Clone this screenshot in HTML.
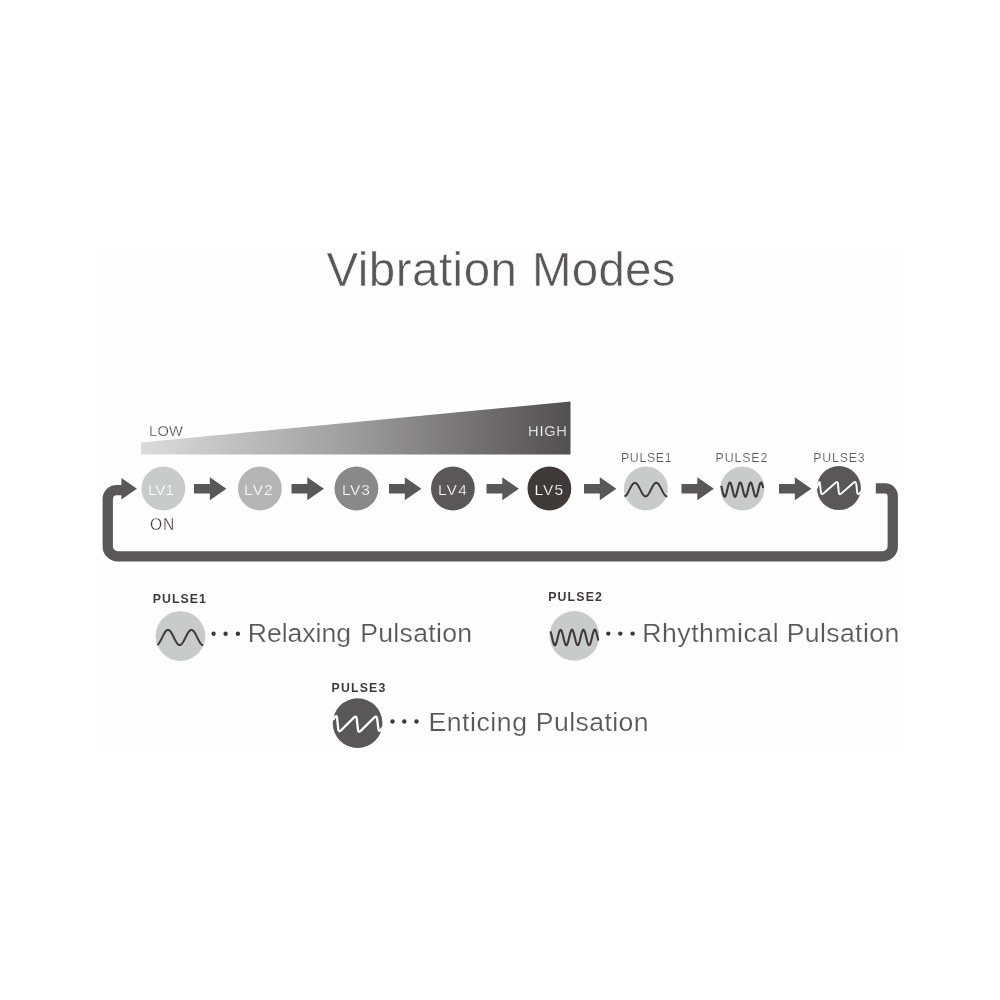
<!DOCTYPE html>
<html><head><meta charset="utf-8"><title>Vibration Modes</title>
<style>
html,body{margin:0;padding:0;background:#fff;}
svg{display:block;will-change:transform;font-family:"Liberation Sans",sans-serif;}
</style></head><body>
<svg width="1000" height="1000" viewBox="0 0 1000 1000">
<rect x="96" y="248" width="804" height="504" fill="#fefefe"/>
<text font-size="47.5" fill="#595757" stroke="#fefefe" stroke-width="0.5"><tspan x="326.38" y="286" letter-spacing="0.497">Vibration</tspan> <tspan x="531.88" y="286" letter-spacing="0.275">Modes</tspan></text>
<defs><linearGradient id="g" x1="0" x2="1" y1="0" y2="0"><stop offset="0" stop-color="#dcdcdc"/><stop offset="0.5" stop-color="#9d9c9c"/><stop offset="1" stop-color="#514f4f"/></linearGradient></defs>
<polygon points="141,442.5 570.5,401.4 570.5,454.4 141,454.4" fill="url(#g)"/>
<text font-size="14.7" fill="#3e3a39" stroke="#fefefe" stroke-width="0.3"><tspan x="149.12" y="436" letter-spacing="0.125">LOW</tspan></text>
<text font-size="14.7" fill="#fff" stroke="#5a5858" stroke-width="0.25"><tspan x="528.12" y="436" letter-spacing="0.667">HIGH</tspan></text>
<circle cx="163.4" cy="488.5" r="21.9" fill="#c9caca"/>
<circle cx="259.9" cy="488.5" r="21.9" fill="#b5b5b6"/>
<circle cx="356.4" cy="488.5" r="21.9" fill="#898989"/>
<circle cx="452.9" cy="488.5" r="21.9" fill="#595757"/>
<circle cx="549.4" cy="488.5" r="21.9" fill="#3e3a39"/>
<circle cx="645.9" cy="488.5" r="22.0" fill="#c9caca"/>
<circle cx="742.4" cy="488.5" r="22.0" fill="#c9caca"/>
<circle cx="838.9" cy="488.1" r="22.0" fill="#595757"/>
<text font-size="15.5" fill="#fff" stroke="#c9caca" stroke-width="0.25"><tspan x="148.03" y="494.8" letter-spacing="-0.112">LV1</tspan></text>
<text font-size="15.5" fill="#fff" stroke="#b5b5b6" stroke-width="0.25"><tspan x="244.12" y="494.8" letter-spacing="1.062">LV2</tspan></text>
<text font-size="15.5" fill="#fff" stroke="#898989" stroke-width="0.25"><tspan x="341.93" y="494.8" letter-spacing="0.725">LV3</tspan></text>
<text font-size="15.5" fill="#fff" stroke="#595757" stroke-width="0.25"><tspan x="437.88" y="494.8" letter-spacing="1.250">LV4</tspan></text>
<text font-size="15.5" fill="#fff" stroke="#3e3a39" stroke-width="0.25"><tspan x="534.62" y="494.8" letter-spacing="1.000">LV5</tspan></text>
<text font-size="12.3" fill="#595757" stroke="#fefefe" stroke-width="0.15"><tspan x="620.98" y="461.7" letter-spacing="0.685">PULSE1</tspan></text>
<text font-size="12.3" fill="#595757" stroke="#fefefe" stroke-width="0.15"><tspan x="715.62" y="461.7" letter-spacing="0.895">PULSE2</tspan></text>
<text font-size="12.3" fill="#595757" stroke="#fefefe" stroke-width="0.15"><tspan x="813.17" y="461.7" letter-spacing="0.865">PULSE3</tspan></text>
<polygon transform="translate(194.0,0)" points="0,484.1 15.8,484.1 15.8,477.3 32.4,488.8 15.8,500.3 15.8,493.6 0,493.6" fill="#595757"/>
<polygon transform="translate(291.5,0)" points="0,484.1 15.8,484.1 15.8,477.3 32.4,488.8 15.8,500.3 15.8,493.6 0,493.6" fill="#595757"/>
<polygon transform="translate(389.0,0)" points="0,484.1 15.8,484.1 15.8,477.3 32.4,488.8 15.8,500.3 15.8,493.6 0,493.6" fill="#595757"/>
<polygon transform="translate(486.5,0)" points="0,484.1 15.8,484.1 15.8,477.3 32.4,488.8 15.8,500.3 15.8,493.6 0,493.6" fill="#595757"/>
<polygon transform="translate(584.0,0)" points="0,484.1 15.8,484.1 15.8,477.3 32.4,488.8 15.8,500.3 15.8,493.6 0,493.6" fill="#595757"/>
<polygon transform="translate(681.5,0)" points="0,484.1 15.8,484.1 15.8,477.3 32.4,488.8 15.8,500.3 15.8,493.6 0,493.6" fill="#595757"/>
<polygon transform="translate(779.0,0)" points="0,484.1 15.8,484.1 15.8,477.3 32.4,488.8 15.8,500.3 15.8,493.6 0,493.6" fill="#595757"/>
<text font-size="15.6" fill="#3e3a39" stroke="#fefefe" stroke-width="0.3"><tspan x="150.03" y="530" letter-spacing="0.875">ON</tspan></text>
<path d="M875.8,488.4 H885.25 a7.5,7.5 0 0 1 7.5,7.5 V546.4 a10,10 0 0 1 -10,10 H117.75 a10,10 0 0 1 -10,-10 V499.1 a9,9 0 0 1 9,-9 H122" fill="none" stroke="#595757" stroke-width="10.3"/>
<polygon points="121.4,478.1 136.9,488.7 121.4,499.6" fill="#595757"/>
<path d="M624.40,496.39 L624.90,496.26 L625.40,495.98 L625.90,495.57 L626.40,495.03 L626.90,494.37 L627.40,493.61 L627.90,492.77 L628.40,491.85 L628.90,490.89 L629.40,489.90 L629.90,488.90 L630.40,487.92 L630.90,486.97 L631.40,486.09 L631.90,485.27 L632.40,484.55 L632.90,483.94 L633.40,483.45 L633.90,483.09 L634.40,482.87 L634.90,482.80 L635.40,482.87 L635.90,483.09 L636.40,483.45 L636.90,483.94 L637.40,484.55 L637.90,485.27 L638.40,486.09 L638.90,486.97 L639.40,487.92 L639.90,488.90 L640.40,489.90 L640.90,490.89 L641.40,491.85 L641.90,492.77 L642.40,493.61 L642.90,494.37 L643.40,495.03 L643.90,495.57 L644.40,495.98 L644.90,496.26 L645.40,496.39 L645.90,496.37 L646.40,496.21 L646.90,495.91 L647.40,495.47 L647.90,494.91 L648.40,494.23 L648.90,493.45 L649.40,492.59 L649.90,491.66 L650.40,490.69 L650.90,489.70 L651.40,488.70 L651.90,487.73 L652.40,486.79 L652.90,485.92 L653.40,485.12 L653.90,484.42 L654.40,483.83 L654.90,483.37 L655.40,483.04 L655.90,482.85 L656.40,482.80 L656.90,482.91 L657.40,483.15 L657.90,483.54 L658.40,484.05 L658.90,484.69 L659.40,485.43 L659.90,486.26 L660.40,487.16 L660.90,488.11 L661.40,489.10 L661.90,490.10 L662.40,491.09 L662.90,492.04 L663.40,492.94 L663.90,493.77 L664.40,494.51 L664.90,495.15 L665.40,495.66 L665.90,496.05 L666.40,496.29 L666.90,496.40 L667.40,496.35" fill="none" stroke="#3e3a39" stroke-width="2"/>
<path d="M721.20,485.83 L721.70,487.80 L722.20,489.93 L722.70,492.03 L723.20,493.91 L723.70,495.40 L724.20,496.36 L724.70,496.70 L725.20,496.40 L725.70,495.47 L726.20,494.01 L726.70,492.15 L727.20,490.06 L727.70,487.93 L728.20,485.94 L728.70,484.30 L729.20,483.13 L729.70,482.55 L730.20,482.62 L730.70,483.32 L731.20,484.59 L731.70,486.32 L732.20,488.35 L732.70,490.49 L733.20,492.55 L733.70,494.34 L734.20,495.70 L734.70,496.51 L735.20,496.68 L735.70,496.21 L736.20,495.14 L736.70,493.56 L737.20,491.63 L737.70,489.50 L738.20,487.39 L738.70,485.48 L739.20,483.94 L739.70,482.92 L740.20,482.51 L740.70,482.74 L741.20,483.60 L741.70,485.00 L742.20,486.83 L742.70,488.90 L743.20,491.04 L743.70,493.05 L744.20,494.74 L744.70,495.97 L745.20,496.62 L745.70,496.62 L746.20,495.99 L746.70,494.77 L747.20,493.09 L747.70,491.08 L748.20,488.94 L748.70,486.87 L749.20,485.04 L749.70,483.62 L750.20,482.75 L750.70,482.50 L751.20,482.90 L751.70,483.91 L752.20,485.44 L752.70,487.35 L753.20,489.46 L753.70,491.58 L754.20,493.53 L754.70,495.11 L755.20,496.20 L755.70,496.68 L756.20,496.52 L756.70,495.73 L757.20,494.38 L757.70,492.59 L758.20,490.53 L758.70,488.39 L759.20,486.36 L759.70,484.62 L760.20,483.34 L760.70,482.62 L761.20,482.55 L761.70,483.11 L762.20,484.27 L762.70,485.91 L763.20,487.89" fill="none" stroke="#3e3a39" stroke-width="2.1"/>
<path d="M816.60,488.40 L818.46,483.49 Q819.60,480.50 819.94,483.68 L820.86,492.12 Q821.20,495.30 823.61,493.20 L835.29,483.00 Q837.70,480.90 838.01,484.09 L838.79,492.31 Q839.10,495.50 841.50,493.38 L853.50,482.82 Q855.90,480.70 856.25,483.88 L857.15,492.12 Q857.50,495.30 859.40,493.35 L861.30,491.40" fill="none" stroke="#fff" stroke-width="1.9"/>
<circle cx="180.45" cy="636.05" r="24.85" fill="#c9caca"/>
<circle cx="213.6" cy="633.8" r="2.2" fill="#3e3a39"/>
<circle cx="225.6" cy="633.8" r="2.2" fill="#3e3a39"/>
<circle cx="237.9" cy="633.8" r="2.2" fill="#3e3a39"/>
<path d="M157.20,644.88 L157.70,644.57 L158.20,644.13 L158.70,643.58 L159.20,642.91 L159.70,642.15 L160.20,641.30 L160.70,640.38 L161.20,639.42 L161.70,638.42 L162.20,637.40 L162.70,636.38 L163.20,635.39 L163.70,634.43 L164.20,633.52 L164.70,632.69 L165.20,631.95 L165.70,631.30 L166.20,630.77 L166.70,630.36 L167.20,630.07 L167.70,629.92 L168.20,629.91 L168.70,630.03 L169.20,630.29 L169.70,630.68 L170.20,631.19 L170.70,631.81 L171.20,632.54 L171.70,633.35 L172.20,634.24 L172.70,635.19 L173.20,636.18 L173.70,637.19 L174.20,638.21 L174.70,639.22 L175.20,640.19 L175.70,641.12 L176.20,641.98 L176.70,642.76 L177.20,643.45 L177.70,644.03 L178.20,644.49 L178.70,644.83 L179.20,645.03 L179.70,645.10 L180.20,645.03 L180.70,644.83 L181.20,644.49 L181.70,644.03 L182.20,643.45 L182.70,642.76 L183.20,641.98 L183.70,641.12 L184.20,640.19 L184.70,639.22 L185.20,638.21 L185.70,637.19 L186.20,636.18 L186.70,635.19 L187.20,634.24 L187.70,633.35 L188.20,632.54 L188.70,631.81 L189.20,631.19 L189.70,630.68 L190.20,630.29 L190.70,630.03 L191.20,629.91 L191.70,629.92 L192.20,630.07 L192.70,630.36 L193.20,630.77 L193.70,631.30 L194.20,631.95 L194.70,632.69 L195.20,633.52 L195.70,634.43 L196.20,635.39 L196.70,636.38 L197.20,637.40 L197.70,638.42 L198.20,639.42 L198.70,640.38 L199.20,641.30 L199.70,642.15 L200.20,642.91 L200.70,643.58 L201.20,644.13 L201.70,644.57 L202.20,644.88 L202.70,645.06 L203.20,645.10" fill="none" stroke="#3e3a39" stroke-width="2"/>
<circle cx="574.4" cy="635.9" r="24.85" fill="#c9caca"/>
<circle cx="608.3" cy="633.6" r="2.2" fill="#3e3a39"/>
<circle cx="620.3" cy="633.6" r="2.2" fill="#3e3a39"/>
<circle cx="632.6" cy="633.6" r="2.2" fill="#3e3a39"/>
<path d="M550.40,631.42 L550.90,632.94 L551.40,634.80 L551.90,636.86 L552.40,638.98 L552.90,640.98 L553.40,642.72 L553.90,644.06 L554.40,644.91 L554.90,645.20 L555.40,644.91 L555.90,644.06 L556.40,642.72 L556.90,640.98 L557.40,638.98 L557.90,636.86 L558.40,634.80 L558.90,632.94 L559.40,631.42 L559.90,630.37 L560.40,629.85 L560.90,629.91 L561.40,630.54 L561.90,631.69 L562.40,633.29 L562.90,635.20 L563.40,637.29 L563.90,639.39 L564.40,641.35 L564.90,643.02 L565.40,644.27 L565.90,645.01 L566.40,645.19 L566.90,644.78 L567.40,643.83 L567.90,642.40 L568.40,640.59 L568.90,638.56 L569.40,636.44 L569.90,634.41 L570.40,632.60 L570.90,631.17 L571.40,630.22 L571.90,629.81 L572.40,629.99 L572.90,630.73 L573.40,631.98 L573.90,633.65 L574.40,635.61 L574.90,637.71 L575.40,639.80 L575.90,641.71 L576.40,643.31 L576.90,644.46 L577.40,645.09 L577.90,645.15 L578.40,644.63 L578.90,643.58 L579.40,642.06 L579.90,640.20 L580.40,638.14 L580.90,636.02 L581.40,634.02 L581.90,632.28 L582.40,630.94 L582.90,630.09 L583.40,629.80 L583.90,630.09 L584.40,630.94 L584.90,632.28 L585.40,634.02 L585.90,636.02 L586.40,638.14 L586.90,640.20 L587.40,642.06 L587.90,643.58 L588.40,644.63 L588.90,645.15 L589.40,645.09 L589.90,644.46 L590.40,643.31 L590.90,641.71 L591.40,639.80 L591.90,637.71 L592.40,635.61 L592.90,633.65 L593.40,631.98 L593.90,630.73 L594.40,629.99 L594.90,629.81 L595.40,630.22 L595.90,631.17 L596.40,632.60 L596.90,634.41 L597.40,636.44 L597.90,638.56 L598.40,640.59" fill="none" stroke="#3e3a39" stroke-width="2.1"/>
<circle cx="357.6" cy="723.15" r="24.85" fill="#595757"/>
<circle cx="392.5" cy="721.5" r="2.2" fill="#3e3a39"/>
<circle cx="404.3" cy="721.5" r="2.2" fill="#3e3a39"/>
<circle cx="416.5" cy="721.5" r="2.2" fill="#3e3a39"/>
<path d="M333.00,719.80 L334.85,717.10 Q336.70,714.40 337.07,717.98 L338.23,729.22 Q338.60,732.80 341.15,730.25 L353.75,717.65 Q356.30,715.10 356.72,718.68 L357.98,729.52 Q358.40,733.10 360.97,730.58 L374.13,717.62 Q376.70,715.10 377.14,718.67 L378.36,728.53 Q378.80,732.10 380.70,729.95 L382.60,727.80" fill="none" stroke="#fff" stroke-width="2.3"/>
<text font-size="12.3" font-weight="bold" fill="#3e3a39"><tspan x="152.72" y="603.4" letter-spacing="1.075">PULSE1</tspan></text>
<text font-size="12.3" font-weight="bold" fill="#3e3a39"><tspan x="548.23" y="600.8" letter-spacing="1.160">PULSE2</tspan></text>
<text font-size="12.3" font-weight="bold" fill="#3e3a39"><tspan x="331.62" y="692.4" letter-spacing="1.160">PULSE3</tspan></text>
<text font-size="26.6" fill="#595757" stroke="#fefefe" stroke-width="0.2"><tspan x="247.75" y="642.2" letter-spacing="-0.025">Relaxing</tspan> <tspan x="360.15" y="642.2" letter-spacing="0.328">Pulsation</tspan></text>
<text font-size="26.6" fill="#595757" stroke="#fefefe" stroke-width="0.2"><tspan x="642.25" y="642.2" letter-spacing="0.536">Rhythmical</tspan> <tspan x="786.65" y="642.2" letter-spacing="0.391">Pulsation</tspan></text>
<text font-size="26.6" fill="#595757" stroke="#fefefe" stroke-width="0.2"><tspan x="428.45" y="730.9" letter-spacing="0.557">Enticing</tspan> <tspan x="535.85" y="730.9" letter-spacing="0.416">Pulsation</tspan></text>
</svg>
</body></html>
